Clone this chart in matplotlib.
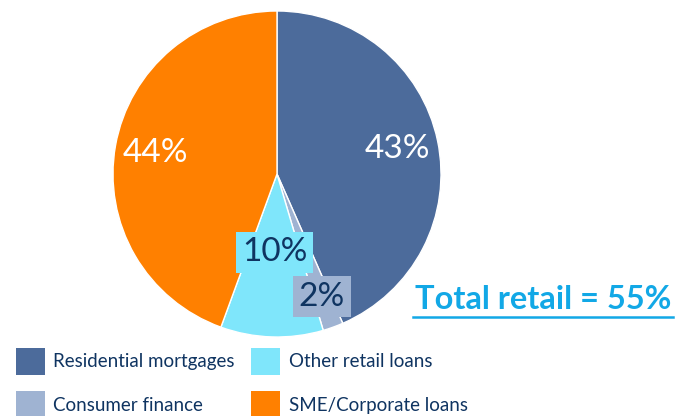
import numpy as np
import matplotlib
matplotlib.use("Agg")
import matplotlib.pyplot as plt
from matplotlib.lines import Line2D

plt.rcParams['font.family'] = ['Lato', 'DejaVu Sans']

labels = ['Residential mortgages', 'Consumer finance', 'Other retail loans', 'SME/Corporate loans']
shares = [43, 2, 10, 44]
colors = ['#4C6B9B', '#9FB3D2', '#7FE6FB', '#FF8000']
pct_colors = ['white', '#0F3461', '#0F3461', 'white']
pct_boxed = [False, True, True, False]
pct_dist = [0.75, 0.80, 0.48, 0.75]
navy = '#0F3461'

fig = plt.figure(figsize=(6.79, 4.16), dpi=100)
ax = fig.add_axes([113 / 679, 1 - 337 / 416, 328 / 679, 326 / 416])

wedges, _ = ax.pie(shares, colors=colors, startangle=90, counterclock=False,
                   wedgeprops=dict(edgecolor='white', linewidth=1))
ax.set_xlim(-1, 1)
ax.set_ylim(-1, 1)
ax.set_aspect('auto')

for w, v, c, boxed, d in zip(wedges, shares, pct_colors, pct_boxed, pct_dist):
    mid = np.deg2rad((w.theta1 + w.theta2) / 2)
    x, y = d * np.cos(mid), d * np.sin(mid)
    kw = {}
    if boxed:
        kw['bbox'] = dict(boxstyle='square,pad=0.17', facecolor=w.get_facecolor(), edgecolor='none')
    ax.text(x, y, f'{v}%', color=c, fontsize=24, ha='center', va='center', **kw)

# total retail note with underline
fig.text(543 / 679, 1 - 309 / 416, 'Total retail = 55%', color='#12A8E6',
         fontsize=23.5, fontweight='bold', ha='center', va='baseline')
fig.add_artist(Line2D([413 / 679, 673 / 679], [1 - 317 / 416, 1 - 317 / 416],
                      color='#12A8E6', linewidth=1.8, transform=fig.transFigure))

leg = fig.legend(wedges, labels, ncol=2, loc='upper left',
                 bbox_to_anchor=(8 / 679, 1 - 340 / 416), frameon=False,
                 fontsize=13.5, handlelength=1.55, handleheight=1.9,
                 handletextpad=0.45, columnspacing=0.9, labelspacing=0.85,
                 borderaxespad=0)
for t in leg.get_texts():
    t.set_color(navy)
for h in leg.legend_handles:
    h.set_edgecolor('none')

fig.savefig('out.png', dpi=100)
